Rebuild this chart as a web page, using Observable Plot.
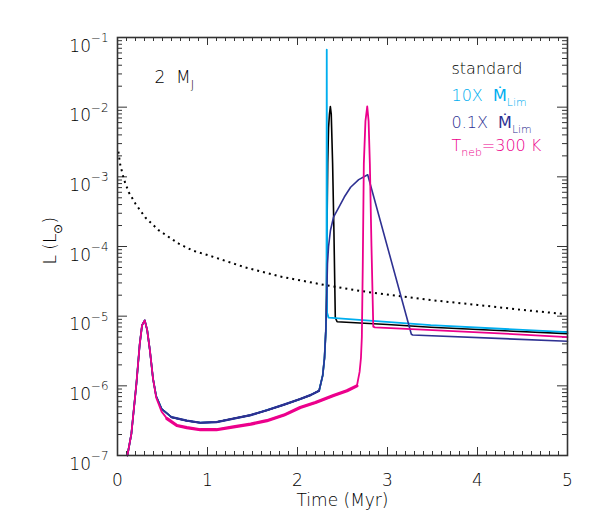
<!DOCTYPE html>
<html><head><meta charset="utf-8">
<script src="https://cdn.jsdelivr.net/npm/d3@7"></script>
<script src="https://cdn.jsdelivr.net/npm/@observablehq/plot@0.6"></script>
<style>body{margin:0;background:#fff}#chart{width:601px;height:531px}</style>
</head><body><div id="chart"></div>
<script>
// ---------- data (time in Myr, luminosity in L_sun) ----------
const xTickValues = [0, 1, 2, 3, 4, 5];
const yExponents = [-7, -6, -5, -4, -3, -2, -1];

// dotted reference curve
const dottedT = [0.01, 0.03, 0.07, 0.125, 0.2, 0.31, 0.46, 0.68, 0.84, 1.02, 1.4, 1.81, 2.3, 2.7, 2.92, 3.48, 4.0, 4.5, 4.98];
const dottedL = [2.3e-3, 1.5e-3, 9.3e-4, 6.0e-4, 4.1e-4, 2.6e-4, 1.7e-4, 1.1e-4, 8.7e-5, 7.4e-5, 5.1e-5, 3.7e-5, 2.8e-5, 2.3e-5, 2.1e-5, 1.7e-5, 1.45e-5, 1.23e-5, 1.07e-5];

// early phase shared by standard, 10X and 0.1X (log10 L)
const sharedT   = [0.11, 0.154, 0.21, 0.247, 0.273, 0.303, 0.33, 0.36, 0.395, 0.43, 0.49, 0.6, 0.77, 0.92, 1.1, 1.29, 1.48, 1.66, 1.85, 2.03, 2.15, 2.24, 2.28, 2.30, 2.315];
const sharedLog = [-7.0, -6.69, -5.97, -5.40, -5.13, -5.06, -5.2, -5.49, -5.9, -6.15, -6.33, -6.45, -6.50, -6.53, -6.52, -6.47, -6.42, -6.35, -6.27, -6.19, -6.13, -6.07, -5.85, -5.6, -5.2];

// after runaway
const standardT   = [2.322, 2.33, 2.336, 2.345, 2.355, 2.365, 2.375, 2.39, 2.405, 2.42, 2.44, 3.0, 3.48, 4.3, 5.0];
const standardLog = [-4.7, -3.5, -2.8, -2.3, -2.1, -1.99, -2.1, -2.8, -3.8, -5.02, -5.08, -5.12, -5.16, -5.21, -5.25];

const tenXT   = [2.322, 2.325, 2.329, 2.345, 3.48, 5.0];
const tenXLog = [-4.9, -1.175, -4.95, -5.02, -5.13, -5.23];

const tenthXT   = [2.325, 2.333, 2.345, 2.366, 2.40, 2.459, 2.52, 2.59, 2.68, 2.78, 3.265, 3.28, 5.0];
const tenthXLog = [-4.7, -4.25, -4.0, -3.77, -3.58, -3.44, -3.29, -3.15, -3.04, -2.97, -5.26, -5.27, -5.36];

// T_neb = 300 K
const nebT   = [0.11, 0.154, 0.21, 0.247, 0.273, 0.303, 0.33, 0.36, 0.395, 0.43, 0.49, 0.55, 0.66, 0.77, 0.92, 1.1, 1.29, 1.48, 1.66, 1.85, 2.03, 2.2, 2.4, 2.55, 2.66, 2.69, 2.705, 2.715, 2.725, 2.737, 2.755, 2.775, 2.79, 2.804, 2.822, 2.842, 2.86, 3.5, 4.3, 5.0];
const nebLog = [-7.0, -6.69, -5.97, -5.40, -5.13, -5.06, -5.2, -5.49, -5.9, -6.17, -6.37, -6.47, -6.57, -6.60, -6.63, -6.63, -6.59, -6.55, -6.50, -6.42, -6.31, -6.24, -6.14, -6.07, -6.0, -5.8, -5.6, -5.3, -4.3, -2.81, -2.2, -1.99, -2.2, -2.81, -4.0, -5.15, -5.16, -5.20, -5.25, -5.30];

const legendLabels = ["standard", "10X  Ṁ_{Lim}", "0.1X  Ṁ_{Lim}", "T_{neb}=300 K"];
const seriesColors = ["#000000", "#00AEEF", "#2E3192", "#EC008C"];
const titleText = "2  M_{J}";
const xLabel = "Time (Myr)";
const yLabel = "L (L_{⊙})";

// ---------- build tables ----------
const pts = (T, V, isLog) => T.map((t, i) => ({t, L: isLog ? Math.pow(10, V[i]) : V[i]}));
const dotted = pts(dottedT, dottedL, false);
const shared = pts(sharedT, sharedLog, true);
const standard = shared.concat(pts(standardT, standardLog, true));
const tenX = shared.concat(pts(tenXT, tenXLog, true));
const tenthX = shared.concat(pts(tenthXT, tenthXLog, true));
const neb = pts(nebT, nebLog, true);

const xMinor = d3.range(51).filter(i => i % 10 !== 0).map(i => i / 10);
const yMajor = yExponents.map(e => Math.pow(10, e));
const yMinor = [];
for (const e of yExponents.slice(0, -1)) for (let k = 2; k <= 9; k++) yMinor.push(k * Math.pow(10, e));

const W = 601, H = 531, mL = 117, mR = 34, mT = 37, mB = 76;
const pw = W - mL - mR, ph = H - mT - mB;
const axisColor = "#333";
const font = "DejaVu Sans";

const marks = [
  // ticks (inward, all four sides)
  Plot.tickX(xMinor, {x: d => d, insetTop: ph - 4, stroke: axisColor}),
  Plot.tickX(xTickValues, {x: d => d, insetTop: ph - 8, stroke: axisColor}),
  Plot.tickX(xMinor, {x: d => d, insetBottom: ph - 4, stroke: axisColor}),
  Plot.tickX(xTickValues, {x: d => d, insetBottom: ph - 8, stroke: axisColor}),
  Plot.tickY(yMinor, {y: d => d, insetRight: pw - 5, stroke: axisColor}),
  Plot.tickY(yMajor, {y: d => d, insetRight: pw - 10, stroke: axisColor}),
  Plot.tickY(yMinor, {y: d => d, insetLeft: pw - 5, stroke: axisColor}),
  Plot.tickY(yMajor, {y: d => d, insetLeft: pw - 10, stroke: axisColor}),
  // curves
  Plot.line(dotted, {x: "t", y: "L", stroke: "#000", strokeWidth: 2, strokeDasharray: "2,4", strokeLinecap: "butt"}),
  Plot.line(standard, {x: "t", y: "L", stroke: seriesColors[0], strokeWidth: 1.6}),
  Plot.line(tenX, {x: "t", y: "L", stroke: seriesColors[1], strokeWidth: 1.8}),
  Plot.line(tenthX, {x: "t", y: "L", stroke: seriesColors[2], strokeWidth: 1.6}),
  Plot.line(tenthX, {filter: d => d.t > 0.55 && d.t < 2.25, x: "t", y: "L", stroke: seriesColors[2], strokeWidth: 2.2}),
  Plot.line(neb, {x: "t", y: "L", stroke: seriesColors[3], strokeWidth: 1.8}),
  Plot.line(neb, {filter: d => d.t > 0.5 && d.t < 2.67, x: "t", y: "L", stroke: seriesColors[3], strokeWidth: 3.2}),
  Plot.frame({stroke: axisColor, strokeWidth: 1.6}),
  // tick labels
  Plot.text(xTickValues, {x: d => d, text: d => String(d), frameAnchor: "bottom", dy: 30, lineAnchor: "bottom", fontSize: 17, fill: "#000"}),
  Plot.text(yExponents, {y: e => Math.pow(10, e), text: e => "10^{" + (e < 0 ? "\u2212" + (-e) : e) + "}", frameAnchor: "left", dx: -9, dy: 14, textAnchor: "end", lineAnchor: "bottom", fontSize: 17, fill: "#000"}),
  // axis titles
  Plot.text([xLabel], {text: d => d, frameAnchor: "bottom", dy: 50, lineAnchor: "bottom", fontSize: 17, fill: "#000"}),
  Plot.text([yLabel], {text: d => d, frameAnchor: "left", dx: -62, dy: 18, rotate: -90, lineAnchor: "bottom", fontSize: 17, fill: "#000"}),
  // annotation
  Plot.text([titleText], {text: d => d, frameAnchor: "top-left", dx: 37, dy: 45, lineAnchor: "bottom", textAnchor: "start", fontSize: 17, fill: "#000"}),
  // legend
  ...legendLabels.map((lab, i) => Plot.text([lab], {text: d => d, frameAnchor: "top-right", dx: -116, dy: [36, 63, 90, 113][i], lineAnchor: "bottom", textAnchor: "start", fontSize: 16, fill: seriesColors[i]}))
];

const chart = Plot.plot({
  width: W, height: H,
  marginLeft: mL, marginRight: mR, marginTop: mT, marginBottom: mB,
  x: {domain: [0, 5], axis: null},
  y: {type: "log", domain: [1e-7, 1e-1], axis: null},
  style: {fontFamily: font, background: "#fff", fontWeight: 300},
  marks
});
document.getElementById("chart").appendChild(chart);

// turn _{..} / ^{..} into sub/superscript tspans; draw Ṁ in regular weight (dot glyph)
const NS = "http://www.w3.org/2000/svg";
chart.querySelectorAll("text").forEach(t => {
  const s = t.textContent;
  if (!/[_^]\{|Ṁ/.test(s)) return;
  const fs = parseFloat(getComputedStyle(t).fontSize) || 16;
  const parts = s.split(/([_^]\{[^}]*\}|Ṁ)/).filter(p => p);
  t.textContent = "";
  let cur = 0;
  for (const p of parts) {
    const ts = document.createElementNS(NS, "tspan");
    let target = 0, txt = p, size = null;
    if (p.startsWith("_{")) { target = fs * 0.36; txt = p.slice(2, -1); size = fs * 0.68; }
    else if (p.startsWith("^{")) { target = -fs * 0.55; txt = p.slice(2, -1); size = fs * 0.7; }
    if (p === "Ṁ") ts.setAttribute("font-weight", "400");
    if (target !== cur) ts.setAttribute("dy", (target - cur).toFixed(2));
    cur = target;
    if (size) ts.setAttribute("font-size", size.toFixed(1));
    ts.textContent = txt;
    t.appendChild(ts);
  }
});
</script></body></html>
